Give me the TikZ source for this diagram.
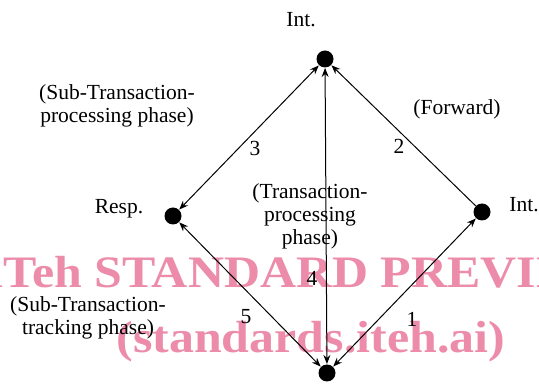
\documentclass[tikz,border=0pt]{standalone}
\usepackage{fontspec}
\setmainfont{Liberation Serif}
\usetikzlibrary{arrows.meta}
\definecolor{wmpink}{RGB}{236,140,170}

\begin{document}
\begin{tikzpicture}[x=1pt, y=-1pt, line width=1pt,
    dot/.style={circle, fill, inner sep=0pt, minimum size=17pt},
    lbl/.style={font=\fontsize{21.5}{23}\selectfont, align=center, inner sep=0pt},
    wm/.style={wmpink, font=\fontsize{45}{45}\selectfont\bfseries, anchor=base west, inner sep=0pt, xscale=1.11},
    >={Stealth[length=9pt, width=7pt]}]

    \useasboundingbox (0,0) rectangle (539,387);

    % watermark
    \node[wm] (wmtop) at (-11,288) {iTeh STANDARD PREVIEW};
    \node[wm] (wmbot) at (116,353) {(standards.iteh.ai)};

    % sites
    \node[dot] (top) at (325,59) {};
    \node[dot] (right) at (482,212) {};
    \node[dot] (resp) at (173,216) {};
    \node[dot] (bot) at (327,373) {};

    \draw[<->] (bot) -- (right);
    \draw[->] (right) -- (top);
    \draw[<->] (top) -- (resp);
    \draw[<->] (top) -- (bot);
    \draw[<->] (resp) -- (bot);

    % texts
    \node[lbl] (topname) at (301,20) {Int.};
    \node[lbl] (rightname) at (524,205) {Int.};
    \node[lbl] (respname) at (119,209) {Resp.};
    \node[lbl] (subproc) at (117,106) {(Sub-Transaction-\\processing phase)};
    \node[lbl] (fwd) at (457,109) {(Forward)};
    \node[lbl] (trproc) at (310,216) {(Transaction-\\processing\\phase)};
    \node[lbl] (subtrack) at (88,318) {(Sub-Transaction-\\tracking phase)};
    \node[lbl] (n1) at (412,319) {1};
    \node[lbl] (n2) at (399,146) {2};
    \node[lbl] (n3) at (255,148) {3};
    \node[lbl] (n4) at (312,278) {4};
    \node[lbl] (n5) at (246,317) {5};

\end{tikzpicture}
\end{document}
